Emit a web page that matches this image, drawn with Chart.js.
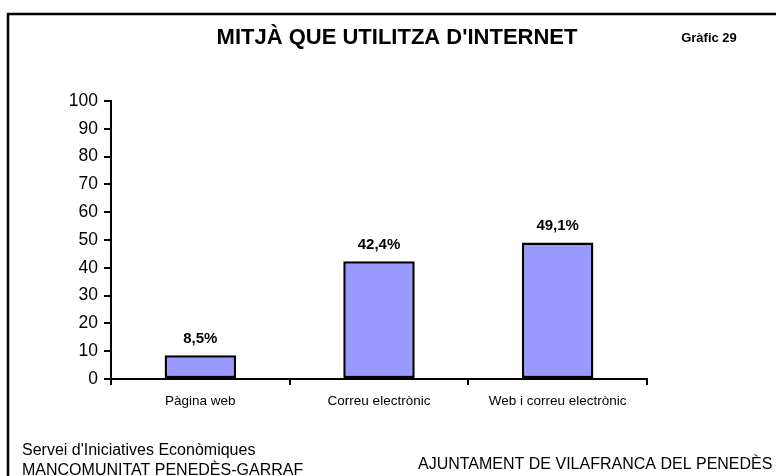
<!DOCTYPE html>
<html>
<head>
<meta charset="utf-8">
<script src="https://cdn.jsdelivr.net/npm/chart.js@4/dist/chart.umd.min.js"></script>
<style>
  html, body { margin: 0; padding: 0; background: #fff; }
  #wrap { width: 776px; height: 476px; }
</style>
</head>
<body>
<div id="wrap"><canvas id="chart" width="776" height="476"></canvas></div>
<script>
const categories = ['Pàgina web', 'Correu electrònic', 'Web i correu electrònic'];
const values = [8.5, 42.4, 49.1];
const yTicks = [0, 10, 20, 30, 40, 50, 60, 70, 80, 90, 100];
const chartTitle = "MITJÀ QUE UTILITZA D'INTERNET";
const chartNumber = 'Gràfic 29';
const footerLeft = ["Servei d'Iniciatives Econòmiques", 'MANCOMUNITAT PENEDÈS-GARRAF'];
const footerRight = 'AJUNTAMENT DE VILAFRANCA DEL PENEDÈS';

const FONT = "'Liberation Sans', Arial, sans-serif";

// frame, titles, footers and bar value labels
const decorPlugin = {
    id: 'decor',
    afterDatasetsDraw(chart) {
        const c = chart.ctx;
        c.save();
        c.fillStyle = '#000';
        c.textAlign = 'center';
        c.textBaseline = 'bottom';
        c.font = 'bold 15px ' + FONT;
        const meta = chart.getDatasetMeta(0);
        meta.data.forEach((bar, i) => {
            const txt = values[i].toFixed(1).replace('.', ',') + '%';
            c.fillText(txt, bar.x, bar.y - 9);
        });
        c.restore();
    },
    afterDraw(chart) {
        const c = chart.ctx;
        c.save();
        c.strokeStyle = '#000';
        c.lineWidth = 2.5;
        c.strokeRect(8, 14, 820, 520);

        c.fillStyle = '#000';
        c.textBaseline = 'middle';
        c.textAlign = 'center';
        c.font = 'bold 22px ' + FONT;
        c.fillText(chartTitle, 397, 38);
        c.font = 'bold 13px ' + FONT;
        c.fillText(chartNumber, 709, 38);

        c.textAlign = 'left';
        c.font = '16px ' + FONT;
        c.fillText(footerLeft[0], 22, 451);
        c.fillText(footerLeft[1], 22, 471);
        c.fillText(footerRight, 418, 465);
        c.restore();
    }
};

new Chart(document.getElementById('chart'), {
    type: 'bar',
    data: {
        labels: categories,
        datasets: [{
            data: values,
            backgroundColor: '#9999ff',
            borderColor: '#000',
            borderWidth: 2.5,
            borderSkipped: false,
            barPercentage: 0.4,
            categoryPercentage: 1
        }]
    },
    options: {
        responsive: false,
        animation: false,
        devicePixelRatio: 1,
        layout: { padding: { top: 101, left: 0, right: 129, bottom: 0 } },
        plugins: {
            legend: { display: false },
            title: { display: false },
            tooltip: { enabled: false }
        },
        scales: {
            x: {
                afterFit: s => { s.height = 97; },
                grid: {
                    offset: true,
                    drawOnChartArea: false,
                    tickLength: 6,
                    tickColor: '#000',
                    lineWidth: 2
                },
                border: { color: '#000', width: 2 },
                ticks: { color: '#000', font: { family: FONT, size: 13.5 }, padding: 8 }
            },
            y: {
                min: 0,
                max: 100,
                afterFit: s => { s.width = 111; },
                afterBuildTicks: s => { s.ticks = yTicks.map(v => ({ value: v })); },
                grid: {
                    drawOnChartArea: false,
                    tickLength: 7,
                    tickColor: '#000',
                    lineWidth: 2
                },
                border: { color: '#000', width: 2 },
                ticks: { color: '#000', font: { family: FONT, size: 17.5 }, padding: 6 }
            }
        }
    },
    plugins: [decorPlugin]
});
</script>
</body>
</html>
